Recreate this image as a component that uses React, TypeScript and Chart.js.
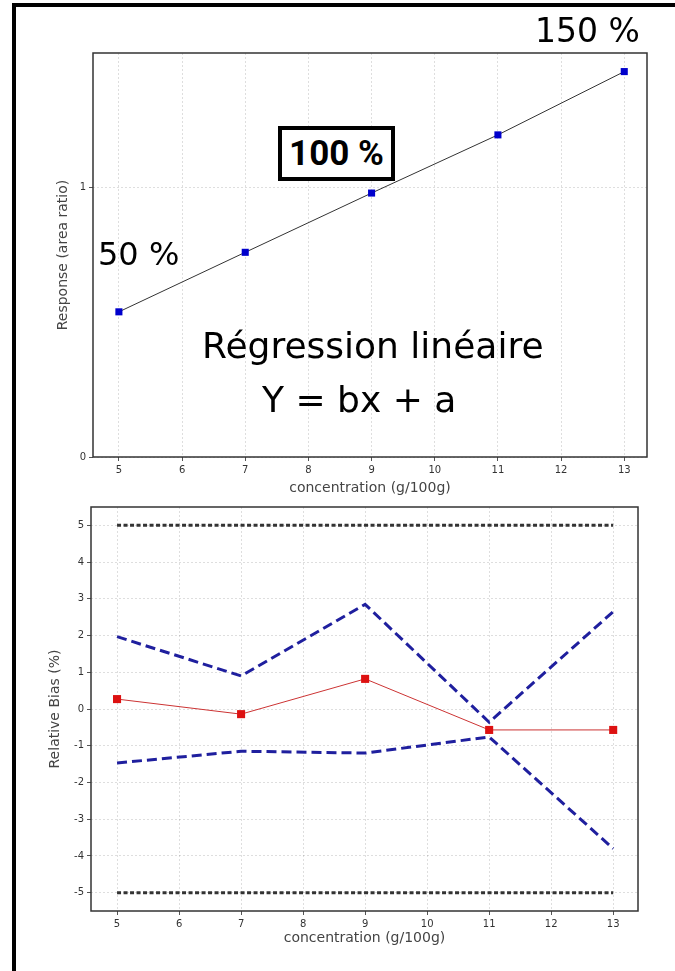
import React, { useEffect, useRef } from 'react';
import { Chart, registerables } from 'chart.js';

Chart.register(...registerables);

// ---- data ----
const concentrations = [5, 7, 9, 11, 13];
const responseRatios = [0.539, 0.76, 0.98, 1.196, 1.431];
const relativeBias = [0.27, -0.14, 0.82, -0.57, -0.57];
const upperBiasLimit = [1.97, 0.9, 2.85, -0.36, 2.65];
const lowerBiasLimit = [-1.47, -1.15, -1.2, -0.76, -3.8];
const acceptanceRange = [5, 13];
const acceptanceUpper = [5, 5];
const acceptanceLower = [-5, -5];
const xTickLabels = [5, 6, 7, 8, 9, 10, 11, 12, 13];
const responseTickLabels = [0, 1];
const biasTickLabels = [-5, -4, -3, -2, -1, 0, 1, 2, 3, 4, 5];

const pts = (xs: number[], ys: number[]) => xs.map((x, i) => ({ x, y: ys[i] }));

const framePlugin = {
  id: 'frame',
  afterDraw(chart: any) {
    const { ctx, chartArea } = chart;
    const { left, top, right, bottom } = chartArea;
    ctx.save();
    ctx.strokeStyle = '#333';
    ctx.lineWidth = 1.5;
    ctx.strokeRect(left, top, right - left, bottom - top);
    ctx.restore();
  },
};

const tickFont = { family: 'DejaVu Sans', size: 10 };
const titleFont = { family: 'DejaVu Sans', size: 14 };
const gridColor = 'rgba(0,0,0,0.13)';

function xScale(min: number, max: number, height: number, padBottom: number) {
  return {
    type: 'linear',
    min,
    max,
    afterBuildTicks: (s: any) => {
      s.ticks = xTickLabels.map((v) => ({ value: v }));
    },
    afterFit: (s: any) => {
      s.height = height;
    },
    grid: { color: gridColor, lineWidth: 1, drawTicks: true, tickLength: 4, tickColor: '#555', tickWidth: 1 },
    border: { display: false, dash: [2, 2] },
    ticks: { font: tickFont, color: '#333', padding: 3, maxRotation: 0, autoSkip: false },
    title: {
      display: true,
      text: 'concentration (g/100g)',
      font: titleFont,
      color: '#444',
      padding: { top: 0, bottom: padBottom },
    },
  };
}

function yScale(min: number, max: number, ticks: number[], width: number, title: string, padTop: number) {
  return {
    type: 'linear',
    min,
    max,
    afterBuildTicks: (s: any) => {
      s.ticks = ticks.map((v) => ({ value: v }));
    },
    afterFit: (s: any) => {
      s.width = width;
    },
    grid: { color: gridColor, lineWidth: 1, drawTicks: true, tickLength: 4, tickColor: '#555', tickWidth: 1 },
    border: { display: false, dash: [2, 2] },
    ticks: { font: tickFont, color: '#333', padding: 3, autoSkip: false },
    title: {
      display: true,
      text: title,
      font: titleFont,
      color: '#444',
      padding: { top: padTop, bottom: 0 },
    },
  };
}

function Label(props: { text: string; left: number; baseline: number; size: number; family: string; bold?: boolean }) {
  const { text, left, baseline, size, family, bold } = props;
  return (
    <div
      style={{
        position: 'absolute',
        left,
        top: baseline - 0.846 * size,
        fontFamily: family,
        fontSize: size,
        lineHeight: 1,
        fontWeight: bold ? 700 : 400,
        color: '#000',
        whiteSpace: 'nowrap',
      }}
    >
      {text}
    </div>
  );
}

export default function App() {
  const topRef = useRef<HTMLCanvasElement>(null);
  const bottomRef = useRef<HTMLCanvasElement>(null);

  useEffect(() => {
    const top = new Chart(topRef.current as HTMLCanvasElement, {
      type: 'scatter',
      data: {
        datasets: [
          {
            data: pts(concentrations, responseRatios),
            showLine: true,
            borderColor: '#333',
            borderWidth: 1,
            pointStyle: 'rect',
            pointRadius: 5,
            pointBorderWidth: 0,
            pointBackgroundColor: '#0000cc',
            pointBorderColor: '#0000cc',
          },
        ],
      },
      options: {
        responsive: false,
        animation: false,
        devicePixelRatio: 1,
        layout: { padding: { top: 23, right: 18, left: 0, bottom: 0 } },
        plugins: { legend: { display: false }, tooltip: { enabled: false } },
        scales: {
          x: xScale(4.59, 13.36, 40, 0),
          y: yScale(0, 1.5, responseTickLabels, 73, 'Response (area ratio)', 34.6),
        },
      } as any,
      plugins: [framePlugin],
    });

    const bottom = new Chart(bottomRef.current as HTMLCanvasElement, {
      type: 'scatter',
      data: {
        datasets: [
          {
            data: pts(acceptanceRange, acceptanceUpper),
            showLine: true,
            borderColor: '#333',
            borderWidth: 3,
            borderDash: [4, 2.5],
            pointRadius: 0,
          },
          {
            data: pts(acceptanceRange, acceptanceLower),
            showLine: true,
            borderColor: '#333',
            borderWidth: 3,
            borderDash: [4, 2.5],
            pointRadius: 0,
          },
          {
            data: pts(concentrations, upperBiasLimit),
            showLine: true,
            borderColor: '#1f1f9e',
            borderWidth: 3,
            borderDash: [10, 5],
            pointRadius: 0,
          },
          {
            data: pts(concentrations, lowerBiasLimit),
            showLine: true,
            borderColor: '#1f1f9e',
            borderWidth: 3,
            borderDash: [10, 5],
            pointRadius: 0,
          },
          {
            data: pts(concentrations, relativeBias),
            showLine: true,
            borderColor: '#cc3333',
            borderWidth: 1,
            pointStyle: 'rect',
            pointRadius: 5.7,
            pointBorderWidth: 0,
            pointBackgroundColor: '#dd1111',
            pointBorderColor: '#dd1111',
          },
        ],
      },
      options: {
        responsive: false,
        animation: false,
        devicePixelRatio: 1,
        layout: { padding: { top: 10, right: 27, left: 0, bottom: 0 } },
        plugins: { legend: { display: false }, tooltip: { enabled: false } },
        scales: {
          x: xScale(4.58, 13.4, 39, 3.6),
          y: yScale(-5.5, 5.5, biasTickLabels, 71, 'Relative Bias (%)', 26.6),
        },
      } as any,
      plugins: [framePlugin],
    });

    return () => {
      top.destroy();
      bottom.destroy();
    };
  }, []);

  return (
    <div
      style={{
        position: 'absolute',
        left: 0,
        top: 0,
        width: 675,
        height: 971,
        background: '#fff',
        overflow: 'hidden',
      }}
    >
      <div
        style={{
          position: 'absolute',
          left: 12,
          top: 3,
          width: 700,
          height: 1000,
          borderTop: '4px solid #000',
          borderLeft: '4px solid #000',
        }}
      />
      <canvas
        ref={topRef}
        width={645}
        height={467}
        style={{ position: 'absolute', left: 20, top: 30, width: 645, height: 467 }}
      />
      <canvas
        ref={bottomRef}
        width={645}
        height={453}
        style={{ position: 'absolute', left: 20, top: 497, width: 645, height: 453 }}
      />
      <Label text="150 %" left={535} baseline={42} size={33} family="DejaVu Sans" />
      <Label text="50 %" left={98} baseline={265} size={32} family="DejaVu Sans" />
      <Label text="Régression linéaire" left={202} baseline={358} size={36} family="DejaVu Sans" />
      <Label text="Y = bx + a" left={262} baseline={412} size={36} family="DejaVu Sans" />
      <div
        style={{
          position: 'absolute',
          left: 278,
          top: 126,
          width: 117,
          height: 55,
          boxSizing: 'border-box',
          border: '4px solid #000',
          background: '#fff',
          display: 'flex',
          alignItems: 'center',
          justifyContent: 'center',
          fontFamily: 'Roboto',
          fontWeight: 700,
          fontSize: 35,
          lineHeight: 1,
          color: '#000',
          whiteSpace: 'nowrap',
        }}
      >
        100 %
      </div>
    </div>
  );
}
